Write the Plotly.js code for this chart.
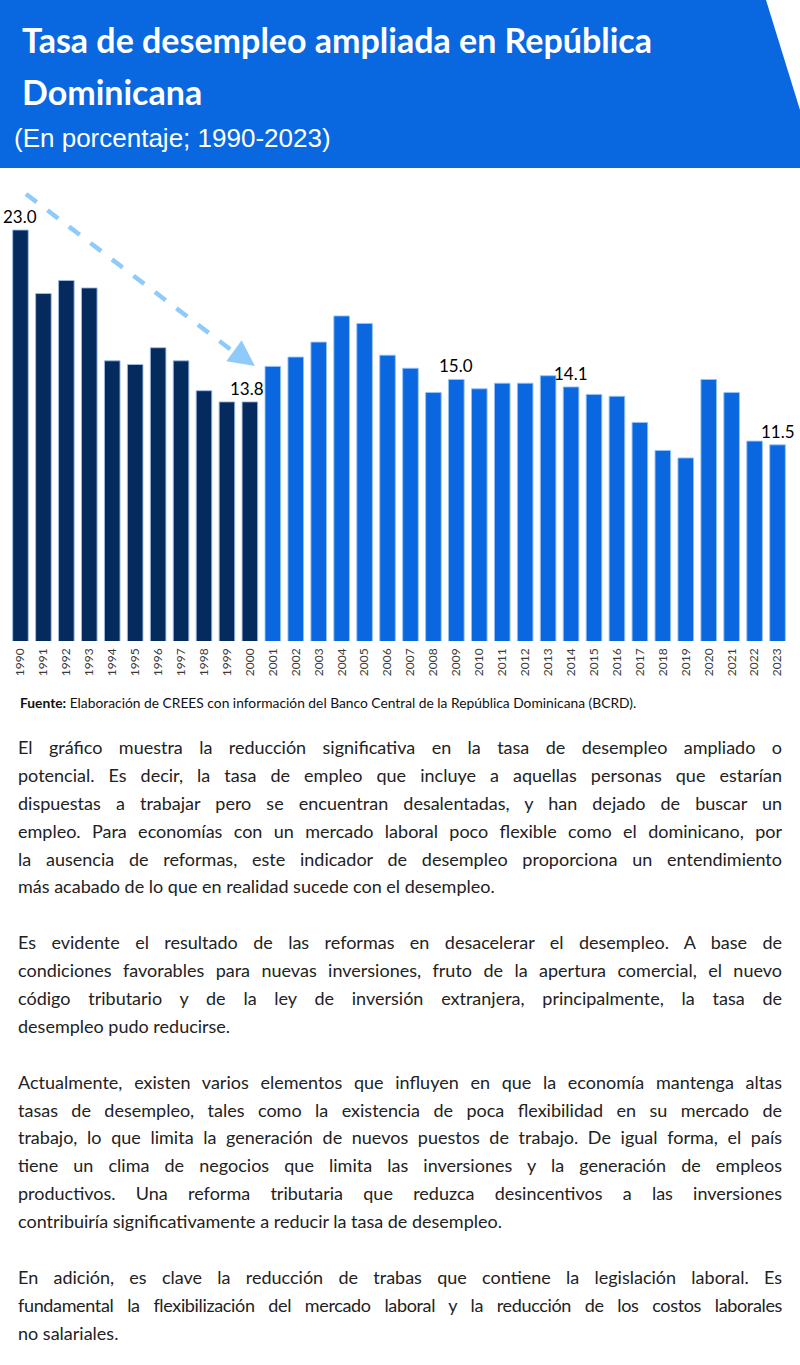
<!DOCTYPE html>
<html>
<head>
<meta charset="utf-8">
<script src="https://cdn.plot.ly/plotly-3.0.1.min.js"></script>
<style>
  html, body { margin:0; padding:0; background:#fff; }
  body { width:800px; height:1365px; position:relative; overflow:hidden; font-family: Lato, "Open Sans", sans-serif; }
  #header { position:absolute; left:0; top:0; width:800px; height:168px; background:#0968e0;
            clip-path: polygon(0 0, 766px 0, 800px 110px, 800px 168px, 0 168px); }
  .t { position:absolute; color:#fff; white-space:nowrap; }
  #t1 { left:22px; top:19px; font:bold 34px Lato, sans-serif; }
  #t2 { left:22px; top:71px; font:bold 34px Lato, sans-serif; }
  #sub { left:14px; top:123px; font:26px "Liberation Sans", Arial, sans-serif; }
  #chart { position:absolute; left:0; top:170px; width:800px; height:550px; }
  #fuente { position:absolute; left:20px; top:694px; font:13.8px Lato, sans-serif; color:#111; white-space:nowrap; }
  #texto { position:absolute; left:18px; top:734px; width:764px; font:18px Lato, sans-serif; color:#222; }
  .ln { height:27.9px; line-height:27.9px; text-align:justify; text-align-last:justify; white-space:nowrap; }
  .ln.last { text-align-last:left; }
  .gap { height:27.9px; }
</style>
</head>
<body>
<div id="header">
  <div class="t" id="t1">Tasa de desempleo ampliada en República</div>
  <div class="t" id="t2">Dominicana</div>
  <div class="t" id="sub">(En porcentaje; 1990-2023)</div>
</div>
<div id="chart"></div>
<div id="fuente"><b>Fuente:</b> Elaboración de CREES con información del Banco Central de la República Dominicana (BCRD).</div>
<div id="texto">
  <div class="ln">El gráfico muestra la reducción significativa en la tasa de desempleo ampliado o</div>
  <div class="ln">potencial. Es decir, la tasa de empleo que incluye a aquellas personas que estarían</div>
  <div class="ln">dispuestas a trabajar pero se encuentran desalentadas, y han dejado de buscar un</div>
  <div class="ln">empleo. Para economías con un mercado laboral poco flexible como el dominicano, por</div>
  <div class="ln">la ausencia de reformas, este indicador de desempleo proporciona un entendimiento</div>
  <div class="ln last">más acabado de lo que en realidad sucede con el desempleo.</div>
  <div class="gap"></div>
  <div class="ln">Es evidente el resultado de las reformas en desacelerar el desempleo. A base de</div>
  <div class="ln">condiciones favorables para nuevas inversiones, fruto de la apertura comercial, el nuevo</div>
  <div class="ln">código tributario y de la ley de inversión extranjera, principalmente, la tasa de</div>
  <div class="ln last">desempleo pudo reducirse.</div>
  <div class="gap"></div>
  <div class="ln">Actualmente, existen varios elementos que influyen en que la economía mantenga altas</div>
  <div class="ln">tasas de desempleo, tales como la existencia de poca flexibilidad en su mercado de</div>
  <div class="ln">trabajo, lo que limita la generación de nuevos puestos de trabajo. De igual forma, el país</div>
  <div class="ln">tiene un clima de negocios que limita las inversiones y la generación de empleos</div>
  <div class="ln">productivos. Una reforma tributaria que reduzca desincentivos a las inversiones</div>
  <div class="ln last">contribuiría significativamente a reducir la tasa de desempleo.</div>
  <div class="gap"></div>
  <div class="ln">En adición, es clave la reducción de trabas que contiene la legislación laboral. Es</div>
  <div class="ln" style="letter-spacing:-0.35px; word-spacing:-1px;">fundamental la flexibilización del mercado laboral y la reducción de los costos laborales</div>
  <div class="ln last">no salariales.</div>
</div>
<script>
const anios = ['1990','1991','1992','1993','1994','1995','1996','1997','1998','1999','2000',
  '2001','2002','2003','2004','2005','2006','2007','2008','2009','2010','2011','2012',
  '2013','2014','2015','2016','2017','2018','2019','2020','2021','2022','2023'];
const tasa = [23.0,19.6,20.3,19.9,16.0,15.8,16.7,16.0,14.4,13.8,13.8,
  15.7,16.2,17.0,18.4,18.0,16.3,15.6,14.3,15.0,14.5,14.8,14.8,
  15.2,14.6,14.2,14.1,12.7,11.2,10.8,15.0,14.3,11.7,11.5];
const ultimoAnioPeriodo1 = '2000';
const etiquetaAnios = ['1990','2000','2009','2014','2023'];
const etiquetaTextos = ['23.0','13.8','15.0','14.1','11.5'];

const colorOscuro = '#042a5e';
const colorAzul = '#0a67e0';
const corte = anios.indexOf(ultimoAnioPeriodo1) + 1;

const traces = [
  { type:'bar', x:anios.slice(0,corte), y:tasa.slice(0,corte),
    marker:{ color:colorOscuro, line:{ color:'rgba(160,190,230,0.9)', width:1 } },
    hoverinfo:'x+y' },
  { type:'bar', x:anios.slice(corte), y:tasa.slice(corte),
    marker:{ color:colorAzul, line:{ color:'rgba(150,195,245,0.9)', width:1 } },
    hoverinfo:'x+y' }
];

const annotations = etiquetaAnios.map((a, i) => ({
  x:anios.indexOf(a), y:tasa[anios.indexOf(a)], xref:'x', yref:'y', text:etiquetaTextos[i],
  showarrow:false, yanchor:'bottom', xanchor:'center', yshift:1, xshift:(a === '2000' ? -3 : 0),
  font:{ family:'Lato, sans-serif', size:17, color:'#000' }
}));
// arrowhead
annotations.push({ x:10.22, y:15.72, xref:'x', yref:'y', ax:-13, ay:-9.5, text:'',
  showarrow:true, arrowhead:2, arrowsize:1.3, arrowwidth:4, arrowcolor:'#8ecbfa', standoff:0 });

const layout = {
  width:800, height:550,
  margin:{ l:9, r:11, t:15, b:79 },
  paper_bgcolor:'rgba(0,0,0,0)', plot_bgcolor:'rgba(0,0,0,0)',
  showlegend:false, barmode:'group', bargap:0.32,
  xaxis:{ type:'category', categoryorder:'array', categoryarray:anios, range:[-0.5, anios.length-0.5],
          tickangle:-90, ticks:'', ticklabelstandoff:4, showline:false, showgrid:false, zeroline:false,
          tickfont:{ family:'Lato, sans-serif', size:12, color:'#3a3a3a' }, fixedrange:true },
  yaxis:{ range:[1, 25.41], visible:false, showgrid:false, zeroline:false, fixedrange:true },
  shapes:[{ type:'line', xref:'x', yref:'y', x0:0.24, y0:24.93, x1:9.75, y1:16.05,
            line:{ color:'#8ecbfa', width:4.5, dash:'dash' } }],
  annotations:annotations
};
Plotly.newPlot('chart', traces, layout, { displayModeBar:false, staticPlot:true });
</script>
</body>
</html>
